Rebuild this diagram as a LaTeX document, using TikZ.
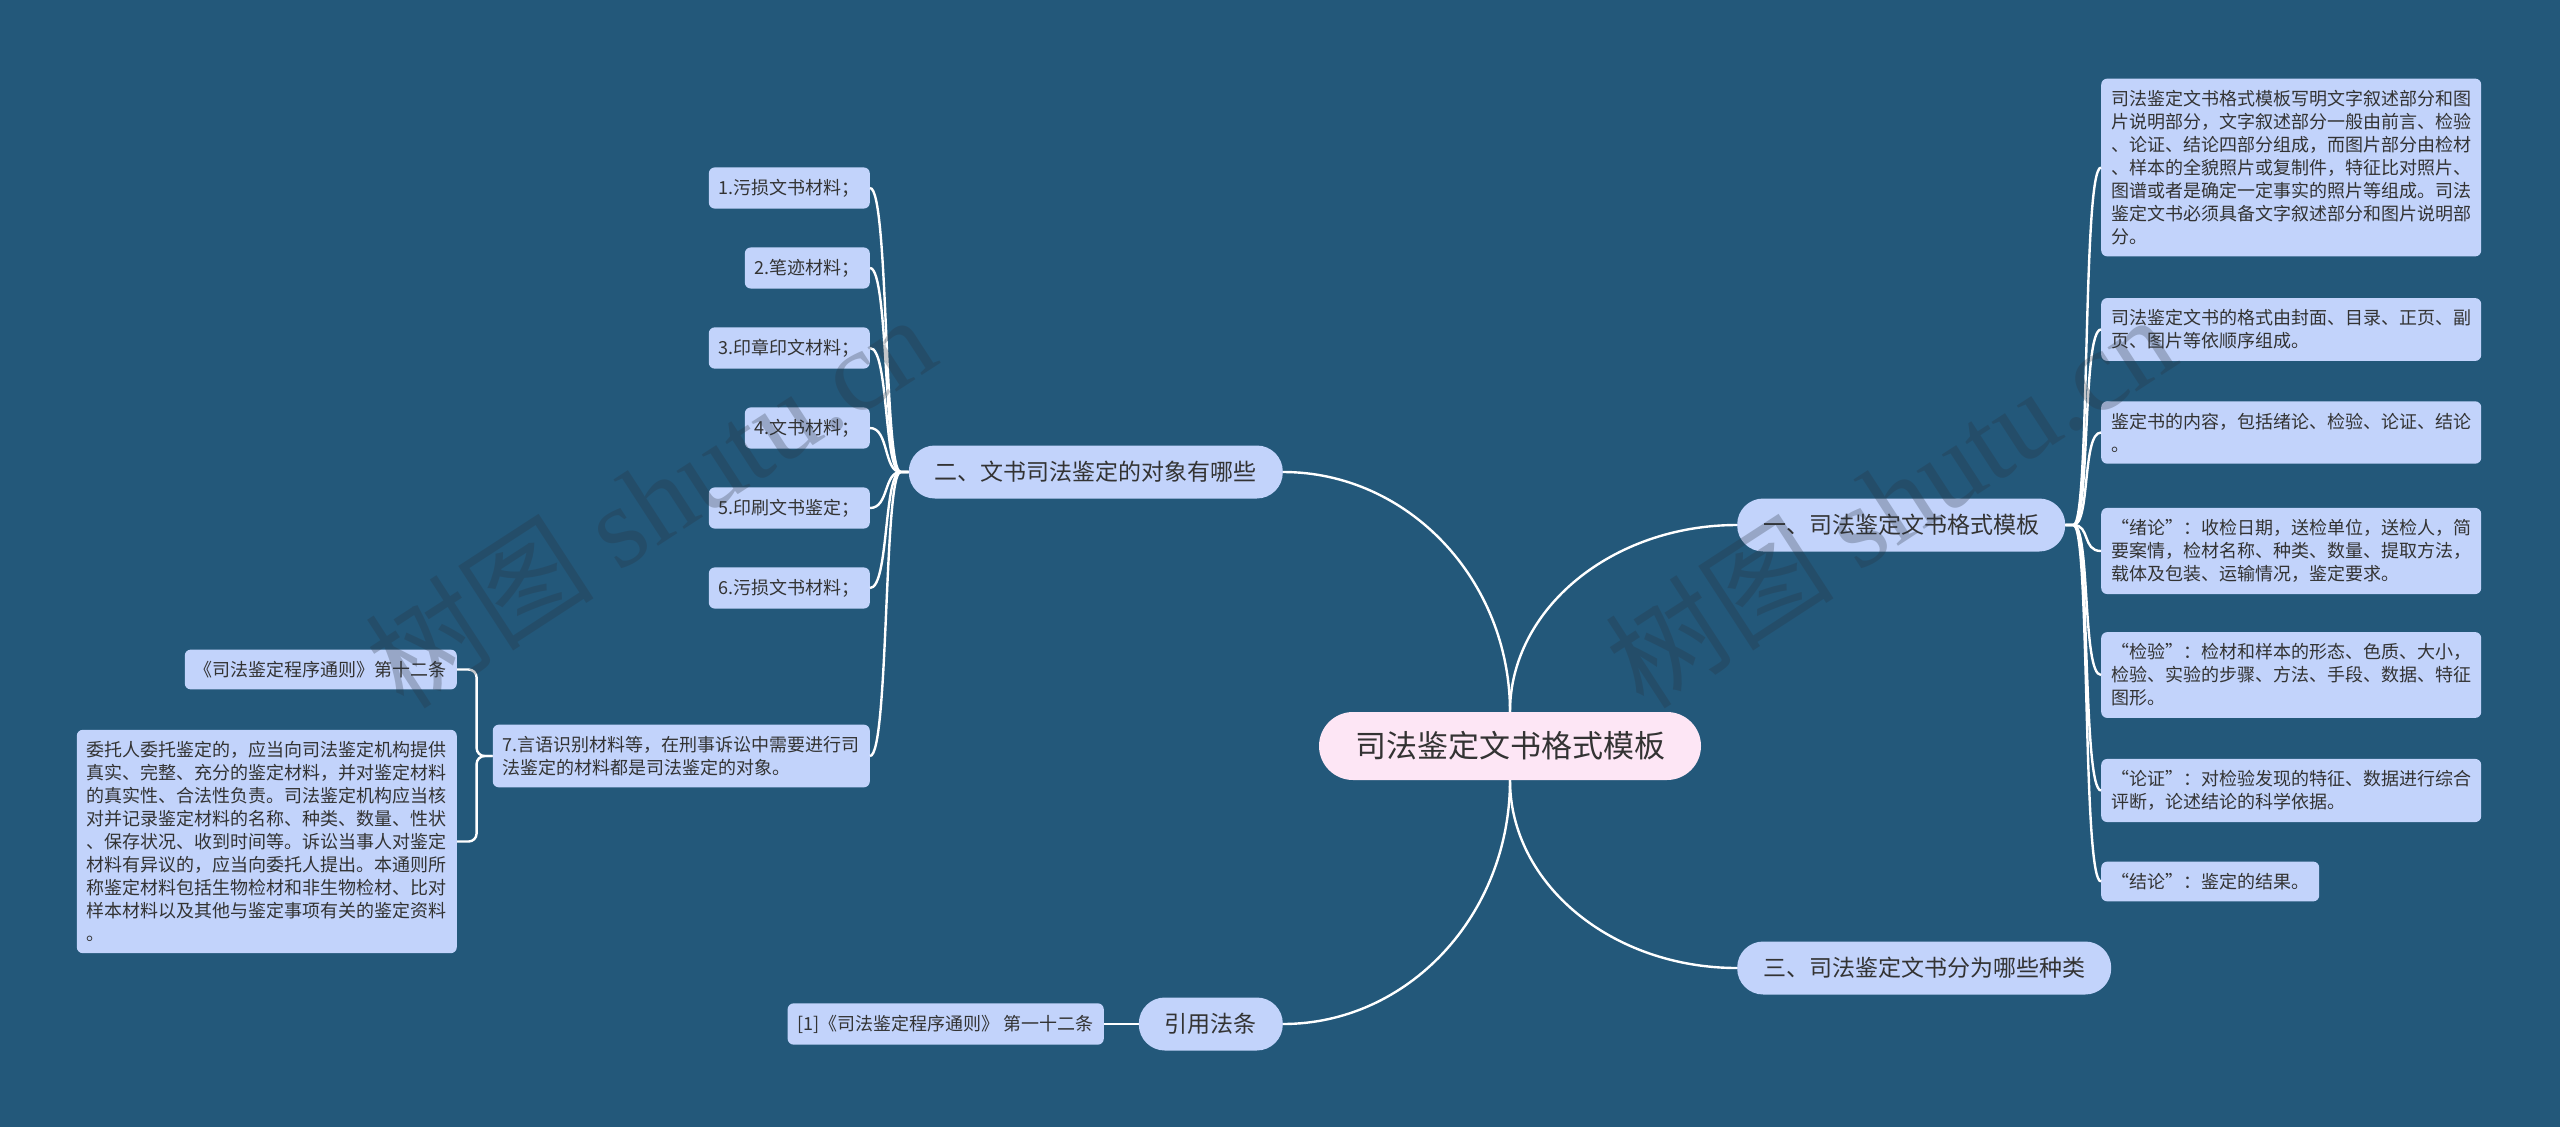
\documentclass[tikz,border=0pt]{standalone}
\usepackage{fontspec}
\setmainfont{Noto Sans CJK SC}
\newfontfamily\wmserif{Liberation Serif}
\definecolor{bgc}{RGB}{35,88,122}
\definecolor{boxc}{RGB}{194,211,251}
\definecolor{rootc}{RGB}{253,230,245}
\definecolor{txt}{RGB}{51,51,51}
\definecolor{wmc}{RGB}{40,50,62}
\newcommand\qo{\makebox[1em][r]{“}}
\newcommand\qc{\makebox[1em][l]{”}}
\begin{document}
\begin{tikzpicture}[x=1pt,y=-1pt,
  leaf/.style={fill=boxc, rounded corners=6pt, inner xsep=10pt, inner ysep=11.5pt, align=left, text=txt, font=\fontsize{18pt}{23pt}\selectfont},
  topic/.style={fill=boxc, rounded corners=26pt, inner xsep=26pt, inner ysep=0pt, minimum height=53pt, text=txt, font=\fontsize{23pt}{28pt}\selectfont},
  rootn/.style={fill=rootc, rounded corners=34pt, inner xsep=36pt, inner ysep=0pt, minimum height=68pt, text=txt, font=\fontsize{31pt}{36pt}\selectfont},
  link/.style={draw=white, line width=2.4pt},
  wm/.style={text=wmc, text opacity=0.28, font=\fontsize{115pt}{120pt}\selectfont, inner sep=0pt}]
\useasboundingbox[fill=bgc] (0,0) rectangle (2560,1127);

% root and main topics
\node[rootn] (root) at (1510,746) {司法鉴定文书格式模板};
\node[topic,anchor=west] (t1) at (1737,525) {一、司法鉴定文书格式模板};
\node[topic,anchor=west] (t3) at (1737,968) {三、司法鉴定文书分为哪些种类};
\node[topic,anchor=east] (t2) at (1283,472) {二、文书司法鉴定的对象有哪些};
\node[topic,anchor=east] (t4) at (1283,1024) {引用法条};
\node[leaf,anchor=east] (ref) at (1104,1024) {[1]《司法鉴定程序通则》 第一十二条};

% right branch leaves
\node[leaf,anchor=west] (r1) at (2101,167.5) {司法鉴定文书格式模板写明文字叙述部分和图\\片说明部分，文字叙述部分一般由前言、检验\\、论证、结论四部分组成，而图片部分由检材\\、样本的全貌照片或复制件，特征比对照片、\\图谱或者是确定一定事实的照片等组成。司法\\鉴定文书必须具备文字叙述部分和图片说明部\\分。};
\node[leaf,anchor=west] (r2) at (2101,329.5) {司法鉴定文书的格式由封面、目录、正页、副\\页、图片等依顺序组成。};
\node[leaf,anchor=west] (r3) at (2101,432.5) {鉴定书的内容，包括绪论、检验、论证、结论\\。};
\node[leaf,anchor=west] (r4) at (2101,551) {\qo 绪论\qc ：收检日期，送检单位，送检人，简\\要案情，检材名称、种类、数量、提取方法，\\载体及包装、运输情况，鉴定要求。};
\node[leaf,anchor=west] (r5) at (2101,675) {\qo 检验\qc ：检材和样本的形态、色质、大小，\\检验、实验的步骤、方法、手段、数据、特征\\图形。};
\node[leaf,anchor=west] (r6) at (2101,790.5) {\qo 论证\qc ：对检验发现的特征、数据进行综合\\评断，论述结论的科学依据。};
\node[leaf,anchor=west] (r7) at (2101,881.5) {\qo 结论\qc ：鉴定的结果。};

% left branch leaves
\node[leaf,anchor=east] (a1) at (870,188) {1.污损文书材料；};
\node[leaf,anchor=east] (a2) at (870,268) {2.笔迹材料；};
\node[leaf,anchor=east] (a3) at (870,348) {3.印章印文材料；};
\node[leaf,anchor=east] (a4) at (870,428) {4.文书材料；};
\node[leaf,anchor=east] (a5) at (870,508) {5.印刷文书鉴定；};
\node[leaf,anchor=east] (a6) at (870,588) {6.污损文书材料；};
\node[leaf,anchor=east] (a7) at (870,756) {7.言语识别材料等，在刑事诉讼中需要进行司\\法鉴定的材料都是司法鉴定的对象。};
\node[leaf,anchor=east] (law) at (457,669.5) {《司法鉴定程序通则》第十二条};
\node[leaf,anchor=east] (wt) at (457,841.5) {委托人委托鉴定的，应当向司法鉴定机构提供\\真实、完整、充分的鉴定材料，并对鉴定材料\\的真实性、合法性负责。司法鉴定机构应当核\\对并记录鉴定材料的名称、种类、数量、性状\\、保存状况、收到时间等。诉讼当事人对鉴定\\材料有异议的，应当向委托人提出。本通则所\\称鉴定材料包括生物检材和非生物检材、比对\\样本材料以及其他与鉴定事项有关的鉴定资料\\。};

% connectors from root
\draw[link] (root.north) .. controls +(0,-103) and +(-125,0) .. (t1.west);
\draw[link] (root.north) .. controls +(0,-132) and +(125,0) .. (t2.east);
\draw[link] (root.south) .. controls +(0,104) and +(-125,0) .. (t3.west);
\draw[link] (root.south) .. controls +(0,135) and +(125,0) .. (t4.east);
\draw[link] (t4.west) -- (ref.east);

% right branch connectors
\foreach \n in {r1,r2,r3,r4,r5,r6,r7}
  \draw[link] (t1.east) -- ++(8,0) .. controls +(17,0) and +(-19,0) .. (\n.west);

% left branch connectors
\foreach \n in {a1,a2,a3,a4,a5,a6,a7}
  \draw[link] (t2.west) -- ++(-8,0) .. controls +(-17,0) and +(19,0) .. (\n.east);
\draw[link, rounded corners=8pt] (a7.west) -- ++(-16,0) |- (law.east);
\draw[link, rounded corners=8pt] (a7.west) -- ++(-16,0) |- (wt.east);

% watermarks
\node[wm, rotate=33] (w1) at (650,500) {树图 {\wmserif shutu.cn}};
\node[wm, rotate=33] (w2) at (1890,500) {树图 {\wmserif shutu.cn}};
\end{tikzpicture}
\end{document}
